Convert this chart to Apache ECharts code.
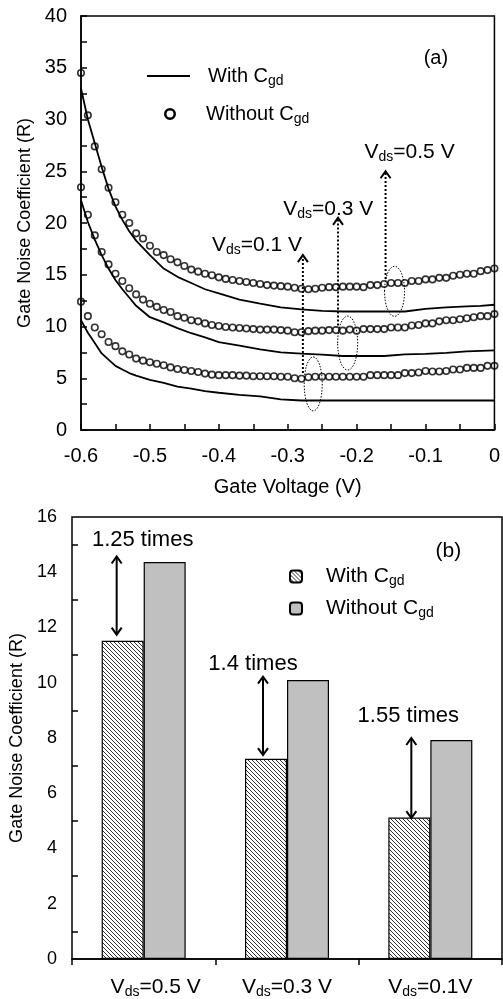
<!DOCTYPE html>
<html>
<head>
<meta charset="utf-8">
<script src="https://cdn.jsdelivr.net/npm/echarts@6/dist/echarts.min.js"></script>
<style>
html,body{margin:0;padding:0;background:#fff;}
#main{width:503px;height:999px;}
</style>
</head>
<body>
<div id="main"></div>
<script>
// (a) gate noise coefficient vs gate voltage
var gateV = [-0.60,-0.59,-0.58,-0.57,-0.56,-0.55,-0.54,-0.53,-0.52,-0.51,
	-0.50,-0.49,-0.48,-0.47,-0.46,-0.45,-0.44,-0.43,-0.42,-0.41,
	-0.40,-0.39,-0.38,-0.37,-0.36,-0.35,-0.34,-0.33,-0.32,-0.31,
	-0.30,-0.29,-0.28,-0.27,-0.26,-0.25,-0.24,-0.23,-0.22,-0.21,
	-0.20,-0.19,-0.18,-0.17,-0.16,-0.15,-0.14,-0.13,-0.12,-0.11,
	-0.10,-0.09,-0.08,-0.07,-0.06,-0.05,-0.04,-0.03,-0.02,-0.01,0];
// without Cgd (circles)
var circ05 = [34.5,30.4,27.4,25.2,23.4,22.0,20.8,20.0,19.0,18.5,
	17.8,17.2,16.9,16.5,16.2,15.85,15.5,15.3,15.1,14.95,
	14.75,14.6,14.5,14.4,14.3,14.2,14.1,14.0,13.95,13.9,
	13.85,13.75,13.65,13.6,13.65,13.75,13.8,13.8,13.85,13.85,
	13.85,13.8,14.0,14.0,14.1,14.2,14.2,14.2,14.4,14.4,
	14.55,14.55,14.7,14.7,14.9,15.0,15.1,15.1,15.35,15.45,15.6];
var circ03 = [23.45,20.8,18.8,17.2,16.0,15.1,14.4,13.7,13.1,12.6,
	12.2,11.9,11.6,11.4,11.0,10.85,10.6,10.5,10.3,10.15,
	10.05,9.95,9.9,9.85,9.8,9.75,9.7,9.7,9.7,9.65,
	9.6,9.45,9.45,9.55,9.6,9.6,9.65,9.65,9.6,9.7,
	9.6,9.75,9.75,9.75,9.75,9.9,9.9,9.9,10.1,10.15,
	10.3,10.3,10.5,10.6,10.6,10.7,10.8,10.9,11.0,11.0,11.2];
var circ01 = [12.4,11.0,9.9,9.25,8.5,8.1,7.6,7.3,6.9,6.7,
	6.55,6.4,6.25,6.05,5.9,5.8,5.7,5.6,5.45,5.35,
	5.3,5.3,5.3,5.25,5.25,5.2,5.2,5.2,5.2,5.15,
	5.15,5.0,4.95,5.1,5.15,5.15,5.15,5.15,5.15,5.15,
	5.15,5.15,5.3,5.3,5.3,5.3,5.3,5.5,5.5,5.55,
	5.7,5.65,5.65,5.7,5.85,5.85,6.0,6.0,6.0,6.2,6.2];
// with Cgd (solid lines)
var lineV = [-0.60,-0.59,-0.58,-0.57,-0.56,-0.55,-0.54,-0.53,-0.52,-0.50,-0.48,-0.46,-0.44,-0.42,-0.40,
	-0.37,-0.34,-0.31,-0.28,-0.25,-0.22,-0.19,-0.16,-0.13,-0.10,-0.07,-0.04,-0.02,0];
var line05 = [33.0,30.0,27.7,25.4,23.3,21.6,20.3,19.2,18.3,16.9,15.6,14.8,14.2,13.6,13.2,
	12.6,12.2,11.85,11.65,11.5,11.45,11.45,11.45,11.45,11.7,11.85,11.95,12.0,12.1];
var line03 = [22.2,20.1,18.4,16.9,15.6,14.5,13.6,12.8,12.0,10.9,10.4,9.85,9.35,8.95,8.5,
	8.15,7.8,7.5,7.38,7.28,7.15,7.15,7.15,7.3,7.35,7.45,7.6,7.65,7.7];
var line01 = [10.6,9.4,8.4,7.4,6.8,6.2,5.85,5.5,5.25,4.85,4.55,4.2,4.0,3.75,3.6,
	3.4,3.25,2.95,2.85,2.85,2.85,2.85,2.85,2.85,2.85,2.85,2.85,2.85,2.85];

// (b) bars
var barCats = ['Vds=0.5 V','Vds=0.3 V','Vds=0.1V'];
var withCgd = [11.52,7.25,5.12];
var withoutCgd = [14.37,10.1,7.93];
var ratioText = ['1.25 times','1.4 times','1.55 times'];

// annotations (data coords)
var vdsText = ['Vds=0.1 V','Vds=0.3 V','Vds=0.5 V'];
var vdsTextPos = [[-0.410,17.9],[-0.3065,21.3],[-0.1885,26.8]];
var vdsArrows = [[-0.278,5.5,16.9],[-0.227,10.1,20.5],[-0.158,14.6,25.0]];
var vdsEllipses = [[-0.263,4.45,9,27],[-0.213,8.4,10,27],[-0.145,13.4,10,25]];
var ratioArrows = [[0,-27,14.57,11.74],[1,-24,10.22,7.38],[2,-19,8.0,5.1]];
var ratioTextPos = [[0,-1,15.17],[1,-34,10.68],[2,-22,8.8]];

var FONT = 'Arial, "Liberation Sans", Helvetica, sans-serif';

function pairs(xs, ys){
	var out = [];
	for(var i=0;i<xs.length;i++){
		out.push([xs[i], ys[i]]);
	}
	return out;
}

function subRich(size, subSize, padLeft){
	return {
		m: {fontSize: size, fontFamily: FONT, color: '#000', padding: [0,0,0,padLeft||0]},
		s: {fontSize: subSize, fontFamily: FONT, color: '#000', padding: [Math.round(subSize*0.7),0,0,0]}
	};
}

// "Vds=0.1 V" -> V{ds}=0.1 V
function subText(str, sub){
	var p = str.split(sub);
	return '{m|' + p[0] + '}{s|' + sub + '}' + (p[1] ? '{m|' + p[1] + '}' : '');
}

function makeHatch(){
	var c = document.createElement('canvas');
	c.width = 4; c.height = 4;
	var ctx = c.getContext('2d');
	ctx.fillStyle = '#fff';
	ctx.fillRect(0,0,4,4);
	ctx.strokeStyle = '#333';
	ctx.lineWidth = 1;
	ctx.beginPath();
	ctx.moveTo(0,0); ctx.lineTo(4,4);
	ctx.moveTo(-1,3); ctx.lineTo(1,5);
	ctx.moveTo(3,-1); ctx.lineTo(5,1);
	ctx.stroke();
	return c;
}

var legendNames = {'with':'With Cgd','without':'Without Cgd','withBar':'With Cgd','withoutBar':'Without Cgd'};
function legendFmt(name){
	return subText(legendNames[name], 'gd');
}

var axisColor = '#000';
var lineStyleAxis = {color: axisColor, width: 1.5};

var chart = echarts.init(document.getElementById('main'));

var series = [];
var lineSets = [line05, line03, line01];
for(var i=0;i<lineSets.length;i++){
	series.push({
		name: 'with', type: 'line', xAxisIndex: 0, yAxisIndex: 0,
		data: pairs(lineV, lineSets[i]),
		symbol: 'none', smooth: false,
		lineStyle: {color: '#000', width: 1.8},
		itemStyle: {color: '#000'}
	});
}
var circSets = [circ05, circ03, circ01];
for(var j=0;j<circSets.length;j++){
	series.push({
		name: 'without', type: 'scatter', xAxisIndex: 0, yAxisIndex: 0,
		data: pairs(gateV, circSets[j]),
		symbol: 'circle', symbolSize: 6.5,
		itemStyle: {color: 'rgba(255,255,255,0)', borderColor: '#000', borderWidth: 1.6},
		z: 3
	});
}
series.push({
	name: 'withBar', type: 'bar', xAxisIndex: 1, yAxisIndex: 1,
	data: withCgd, barWidth: 42, barGap: '0%',
	itemStyle: {color: {image: makeHatch(), repeat: 'repeat'}, borderColor: '#000', borderWidth: 1.2}
});
series.push({
	name: 'withoutBar', type: 'bar', xAxisIndex: 1, yAxisIndex: 1,
	data: withoutCgd, barWidth: 42, barGap: '0%',
	itemStyle: {color: '#c0c0c0', borderColor: '#000', borderWidth: 1.2}
});

var catData = barCats.map(function(c, k){
	return k === 0 ? {value: c, textStyle: {padding: [0,0,0,24]}} : c;
});

var lineIcon = 'path://M0,0H43V2H0Z';
var ringIcon = 'path://M5,0A5,5 0 1,1 4.99,0Z M5,2.1A2.9,2.9 0 1,0 5.01,2.1Z';

option = {
	animation: false,
	backgroundColor: '#fff',
	textStyle: {fontFamily: FONT, color: '#000'},
	grid: [
		{left: 81, top: 16, width: 417, height: 414, show: true, borderColor: '#000', borderWidth: 1.5, backgroundColor: 'transparent'},
		{left: 70, top: 517, width: 432, height: 442, show: true, borderColor: '#000', borderWidth: 1.5, backgroundColor: 'transparent'}
	],
	legend: [
		{data: [{name: 'with', icon: lineIcon, itemStyle: {color: '#000', borderWidth: 0}}],
			left: 147, top: 66, padding: 0, orient: 'vertical', itemWidth: 43, itemHeight: 2,
			formatter: legendFmt, textStyle: {rich: subRich(20, 14, 13)}},
		{data: [{name: 'without', icon: ringIcon, itemStyle: {color: '#000', borderColor: '#000', borderWidth: 0, opacity: 1}}],
			left: 164, top: 104, padding: 0, orient: 'vertical', itemWidth: 12, itemHeight: 13,
			itemStyle: {color: '#000', borderWidth: 0},
			formatter: legendFmt, textStyle: {rich: subRich(20, 14, 25)}},
		{data: ['withBar'], left: 289, top: 566, padding: 0, orient: 'vertical', itemWidth: 12, itemHeight: 12,
			formatter: legendFmt, textStyle: {rich: subRich(21, 14, 19)}},
		{data: ['withoutBar'], left: 289, top: 598, padding: 0, orient: 'vertical', itemWidth: 12, itemHeight: 12,
			formatter: legendFmt, textStyle: {rich: subRich(21, 14, 19)}}
	],
	xAxis: [
		{
			type: 'value', gridIndex: 0, min: -0.6, max: 0, interval: 0.1, position: 'bottom',
			axisLine: {onZero: false, lineStyle: lineStyleAxis},
			axisTick: {inside: true, length: 6, lineStyle: lineStyleAxis},
			minorTick: {show: true, splitNumber: 2, length: 6, lineStyle: lineStyleAxis},
			splitLine: {show: false},
			axisLabel: {margin: 16, fontSize: 20, color: '#000', fontFamily: FONT,
				formatter: function(v){ return Math.abs(v) < 1e-9 ? '0' : v.toFixed(1); }},
			name: 'Gate Voltage (V)', nameLocation: 'middle', nameGap: 47,
			nameTextStyle: {fontSize: 20, color: '#000', fontFamily: FONT}
		},
		{
			type: 'category', gridIndex: 1, data: catData, position: 'bottom',
			axisLine: {onZero: false, lineStyle: lineStyleAxis},
			axisTick: {show: true, inside: false, length: 6, alignWithLabel: false, lineStyle: lineStyleAxis},
			splitLine: {show: false},
			axisLabel: {margin: 16, color: '#000', interval: 0,
				formatter: function(v){ return subText(v, 'ds'); },
				rich: subRich(21, 14, 0)}
		}
	],
	yAxis: [
		{
			type: 'value', gridIndex: 0, min: 0, max: 40, interval: 5, position: 'left',
			axisLine: {onZero: false, lineStyle: lineStyleAxis},
			axisTick: {inside: true, length: 6, lineStyle: lineStyleAxis},
			minorTick: {show: true, splitNumber: 2, length: 6, lineStyle: lineStyleAxis},
			splitLine: {show: false},
			axisLabel: {margin: 14, fontSize: 20, color: '#000', fontFamily: FONT},
			name: 'Gate Noise Coefficient (R)', nameLocation: 'middle', nameGap: 47,
			nameTextStyle: {fontSize: 18, color: '#000', fontFamily: FONT}
		},
		{
			type: 'value', gridIndex: 1, min: 0, max: 16, interval: 2, position: 'left',
			axisLine: {onZero: false, lineStyle: lineStyleAxis},
			axisTick: {inside: true, length: 6, lineStyle: lineStyleAxis},
			minorTick: {show: true, splitNumber: 2, length: 6, lineStyle: lineStyleAxis},
			splitLine: {show: false},
			axisLabel: {margin: 15, fontSize: 18, color: '#000', fontFamily: FONT},
			name: 'Gate Noise Coefficient (R)', nameLocation: 'middle', nameGap: 46,
			nameTextStyle: {fontSize: 18, color: '#000', fontFamily: FONT}
		}
	],
	series: series
};
chart.setOption(option);

// annotations placed through the axes
var g = [];
function chevron(x, y, dir){
	// dir -1: pointing up, 1: pointing down
	return {type: 'polyline', z: 10, shape: {points: [[x-5, y-dir*7],[x, y],[x+5, y-dir*7]]},
		style: {stroke: '#000', lineWidth: 2, fill: null}};
}
for(var a=0;a<vdsArrows.length;a++){
	var pb = chart.convertToPixel({gridIndex: 0}, [vdsArrows[a][0], vdsArrows[a][1]]);
	var pt = chart.convertToPixel({gridIndex: 0}, [vdsArrows[a][0], vdsArrows[a][2]]);
	g.push({type: 'line', z: 10, shape: {x1: pb[0], y1: pb[1], x2: pt[0], y2: pt[1]+1},
		style: {stroke: '#000', lineWidth: 2, lineDash: [2,2]}});
	g.push(chevron(pt[0], pt[1], -1));
}
for(var e=0;e<vdsEllipses.length;e++){
	var pc = chart.convertToPixel({gridIndex: 0}, [vdsEllipses[e][0], vdsEllipses[e][1]]);
	g.push({type: 'ellipse', z: 10, shape: {cx: pc[0], cy: pc[1], rx: vdsEllipses[e][2], ry: vdsEllipses[e][3]},
		style: {stroke: '#000', lineWidth: 1, lineDash: [1.5,1.5], fill: null}});
}
for(var t=0;t<vdsText.length;t++){
	var pp = chart.convertToPixel({gridIndex: 0}, vdsTextPos[t]);
	g.push({type: 'text', z: 10, x: pp[0], y: pp[1],
		style: {text: subText(vdsText[t], 'ds'), rich: subRich(21, 14, 0), align: 'left', verticalAlign: 'middle'}});
}
var pa = chart.convertToPixel({gridIndex: 0}, [-0.085, 35.9]);
g.push({type: 'text', z: 10, x: pa[0], y: pa[1],
	style: {text: '(a)', font: '20px ' + FONT, fill: '#000', align: 'center', verticalAlign: 'middle'}});
for(var r=0;r<ratioArrows.length;r++){
	var ra = ratioArrows[r];
	var p1 = chart.convertToPixel({xAxisIndex: 1, yAxisIndex: 1}, [ra[0], ra[2]]);
	var p2 = chart.convertToPixel({xAxisIndex: 1, yAxisIndex: 1}, [ra[0], ra[3]]);
	var ax = p1[0] + ra[1];
	g.push({type: 'line', z: 10, shape: {x1: ax, y1: p1[1]+1, x2: ax, y2: p2[1]-1},
		style: {stroke: '#000', lineWidth: 2}});
	g.push(chevron(ax, p1[1], -1));
	g.push(chevron(ax, p2[1], 1));
}
for(var q=0;q<ratioText.length;q++){
	var rt = ratioTextPos[q];
	var pr = chart.convertToPixel({xAxisIndex: 1, yAxisIndex: 1}, [rt[0], rt[2]]);
	g.push({type: 'text', z: 10, x: pr[0] + rt[1], y: pr[1],
		style: {text: ratioText[q], font: '22px ' + FONT, fill: '#000', align: 'center', verticalAlign: 'middle'}});
}
var pbb = chart.convertToPixel({xAxisIndex: 1, yAxisIndex: 1}, [2, 14.75]);
g.push({type: 'text', z: 10, x: pbb[0] + 18, y: pbb[1],
	style: {text: '(b)', font: '21px ' + FONT, fill: '#000', align: 'center', verticalAlign: 'middle'}});

chart.setOption({graphic: g});
</script>
</body>
</html>
